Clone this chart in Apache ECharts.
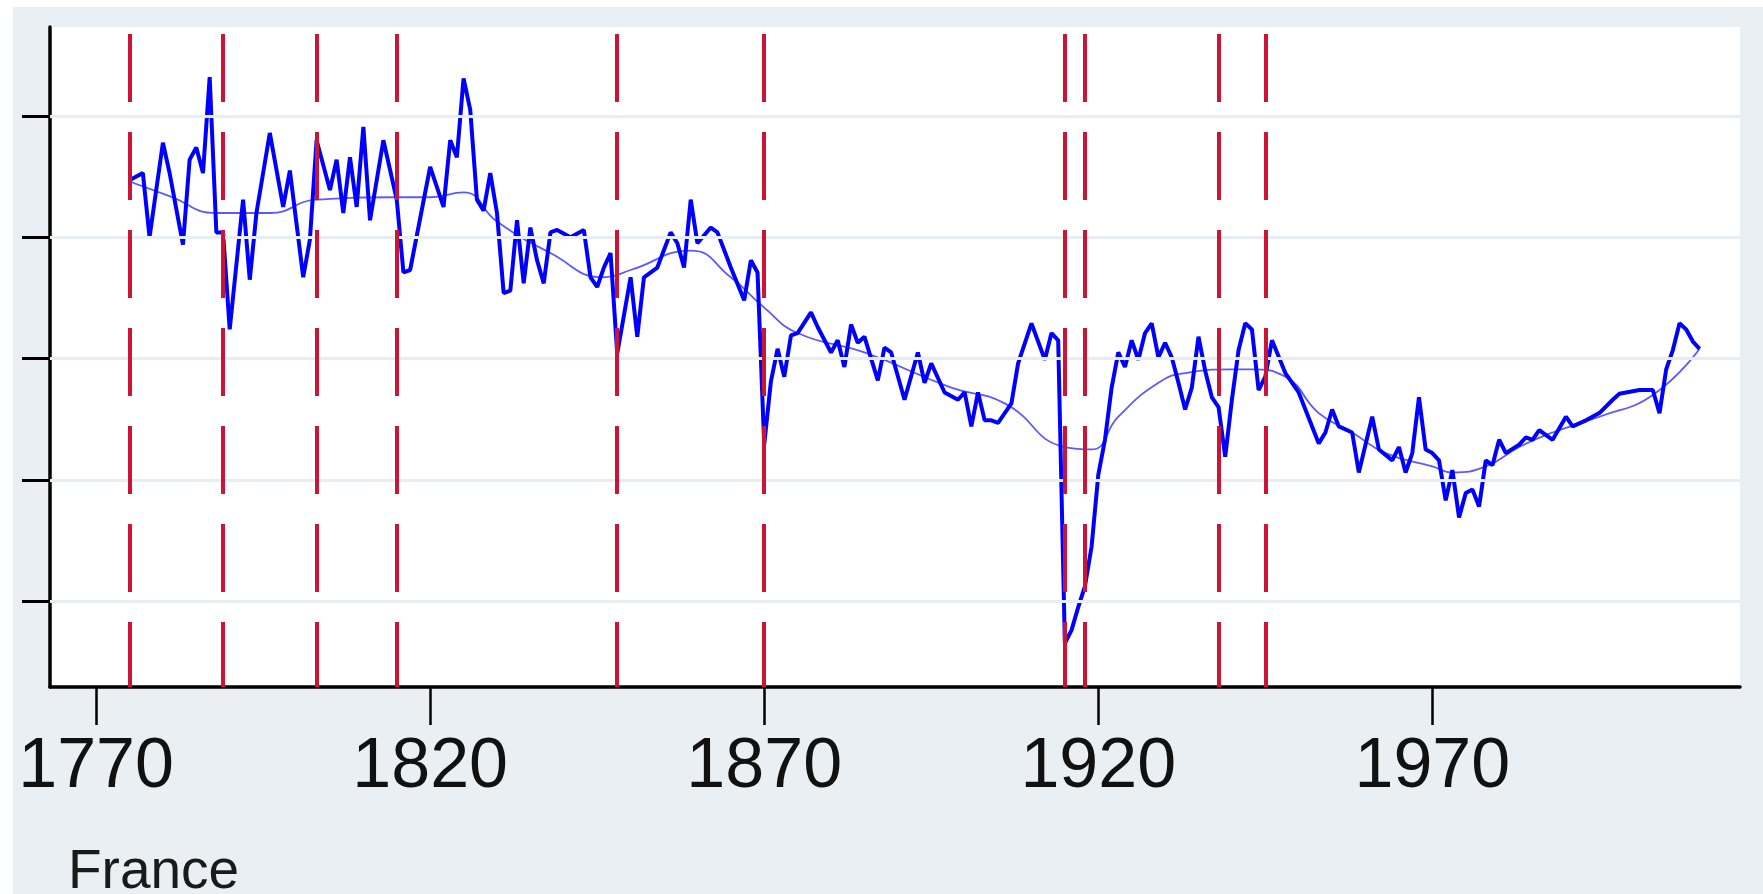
<!DOCTYPE html>
<html>
<head>
<meta charset="utf-8">
<script src="https://cdn.jsdelivr.net/npm/echarts@6/dist/echarts.min.js"></script>
<style>
html,body{margin:0;padding:0;background:#ffffff;width:1763px;height:894px;overflow:hidden;}
#chart{position:absolute;left:13px;top:7px;width:1750px;height:887px;}
</style>
</head>
<body>
<div id="chart"></div>
<script>
// x tick labels
const xTicks = [1770, 1820, 1870, 1920, 1970];
// unlabeled y ticks
const yTicks = [0, 1, 2, 3, 4];
// event years (red dashed lines)
const eventYears = [1775, 1789, 1803, 1815, 1848, 1870, 1915, 1918, 1938, 1945];

// main series (France)
const years = [1775,1777,1778,1780,1781,1783,1784,1785,1786,1787,1788,1789,1790,1792,1793,1794,1796,1798,1799,1801,1802,1803,1805,1806,1807,1808,1809,1810,1811,1813,1815,1816,1817,1820,1822,1823,1824,1825,1826,1827,1828,1829,1830,1831,1832,1833,1834,1835,1836,1837,1838,1839,1841,1843,1844,1845,1846,1847,1848,1850,1851,1852,1854,1856,1857,1858,1859,1860,1862,1863,1865,1867,1868,1869,1870,1871,1872,1873,1874,1875,1877,1878,1880,1881,1882,1883,1884,1885,1887,1888,1889,1891,1893,1894,1895,1897,1899,1900,1901,1902,1903,1904,1905,1907,1908,1910,1912,1913,1914,1915,1916,1917,1918,1919,1920,1921,1922,1923,1924,1925,1926,1927,1928,1929,1930,1931,1932,1933,1934,1935,1936,1937,1938,1939,1940,1941,1942,1943,1944,1945,1946,1948,1950,1951,1953,1954,1955,1956,1958,1959,1961,1962,1964,1965,1966,1967,1968,1969,1970,1971,1972,1973,1974,1975,1976,1977,1978,1979,1980,1981,1983,1984,1985,1986,1988,1990,1991,1993,1995,1997,1998,2001,2003,2004,2005,2006,2007,2008,2009,2010];
const values = [3.47,3.53,3.00,3.78,3.53,2.94,3.64,3.74,3.53,4.32,3.04,3.04,2.24,3.31,2.65,3.20,3.86,3.25,3.55,2.67,2.98,3.80,3.39,3.64,3.20,3.66,3.25,3.91,3.14,3.80,3.31,2.71,2.73,3.58,3.25,3.80,3.66,4.31,4.05,3.31,3.22,3.53,3.20,2.54,2.56,3.14,2.62,3.08,2.81,2.62,3.04,3.06,3.00,3.06,2.67,2.59,2.75,2.87,2.04,2.67,2.18,2.67,2.75,3.04,2.95,2.75,3.31,2.95,3.08,3.04,2.75,2.48,2.81,2.71,1.29,1.81,2.08,1.85,2.19,2.21,2.38,2.26,2.05,2.15,1.93,2.28,2.13,2.18,1.82,2.09,2.05,1.66,2.05,1.80,1.96,1.72,1.66,1.72,1.44,1.72,1.49,1.49,1.47,1.63,1.96,2.29,1.99,2.21,2.15,-0.35,-0.24,-0.05,0.12,0.45,1.04,1.33,1.76,2.05,1.93,2.15,1.99,2.21,2.29,2.01,2.13,2.01,1.80,1.58,1.76,2.18,1.90,1.68,1.60,1.19,1.66,2.07,2.29,2.24,1.74,1.85,2.15,1.88,1.72,1.58,1.30,1.39,1.58,1.44,1.39,1.06,1.52,1.25,1.16,1.27,1.06,1.22,1.68,1.25,1.22,1.16,0.83,1.08,0.69,0.89,0.92,0.78,1.16,1.12,1.33,1.22,1.29,1.35,1.33,1.41,1.33,1.52,1.44,1.49,1.55,1.66,1.71,1.74,1.74,1.55,1.91,2.07,2.29,2.24,2.14,2.08];

// smoothed trend
const trendYears = [1775,1781,1788,1796,1803,1815,1820,1825,1830,1838,1846,1850,1859,1865,1870,1875,1885,1898,1906,1915,1919,1923,1929,1933,1940,1943,1948,1953,1958,1963,1970,1973,1978,1983,1988,1995,2003,2010];
const trendValues = [3.46,3.34,3.20,3.20,3.31,3.33,3.33,3.37,3.13,2.87,2.67,2.73,2.89,2.67,2.42,2.21,2.05,1.76,1.63,1.27,1.25,1.52,1.80,1.88,1.91,1.91,1.85,1.55,1.39,1.22,1.11,1.06,1.11,1.27,1.39,1.52,1.70,2.08];

const titleText = 'France';

const mainData = years.map((y, i) => [y, values[i]]);
const trendData = trendYears.map((y, i) => [y, trendValues[i]]);

const chart = echarts.init(document.getElementById('chart'));
chart.setOption({
  backgroundColor: '#e9eff2',
  animation: false,
  title: {
    text: titleText,
    left: 50,
    top: 833,
    textStyle: {fontFamily: 'Liberation Sans, Arial, sans-serif', fontSize: 55, fontWeight: 'normal', color: '#1a1a1a'}
  },
  grid: {left: 37, right: 23, top: 20, bottom: 207, show: true, backgroundColor: '#ffffff', borderWidth: 0},
  xAxis: {
    type: 'value', min: 1763.1, max: 2016.05,
    splitLine: {show: false},
    axisLine: {show: true, onZero: false, lineStyle: {color: '#000', width: 3.5}},
    axisTick: {show: true, customValues: xTicks, length: 38, lineStyle: {color: '#000', width: 2.5}},
    axisLabel: {show: true, customValues: xTicks, margin: 46, fontSize: 70,
      formatter: v => String(v),
      fontFamily: "'Liberation Sans', Arial, sans-serif", color: '#111'}
  },
  yAxis: {
    type: 'value', min: -0.709, max: 4.734,
    splitLine: {show: false},
    axisLine: {show: true, onZero: false, lineStyle: {color: '#000', width: 3.5}},
    axisTick: {show: true, customValues: yTicks, length: 28, lineStyle: {color: '#000', width: 3}},
    axisLabel: {show: false}
  },
  series: [
    {
      type: 'line', data: [], z: 1, silent: true,
      markLine: {silent: true, symbol: 'none', label: {show: false},
        lineStyle: {color: '#e7eef2', width: 3, type: 'solid'},
        data: yTicks.map(v => ({yAxis: v}))}
    },
    {
      type: 'line', data: [], z: 2, silent: true,
      markLine: {silent: true, symbol: 'none', label: {show: false},
        lineStyle: {color: '#cc1437', width: 4, type: [68, 30], dashOffset: 3},
        data: eventYears.map(v => ({xAxis: v}))}
    },
    {
      type: 'line', data: trendData, z: 3, smooth: 0.5, symbol: 'none',
      lineStyle: {color: '#5a5aff', width: 1.8}
    },
    {
      type: 'line', data: mainData, z: 4, symbol: 'none',
      lineStyle: {color: '#0000ff', width: 4}
    }
  ]
});
</script>
</body>
</html>
